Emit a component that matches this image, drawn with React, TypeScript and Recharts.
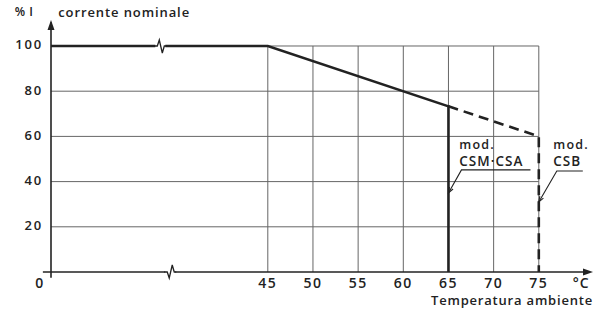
import { LineChart, Line, XAxis, YAxis, ReferenceLine, ReferenceDot } from 'recharts';

// temperature axis is broken between 0 and 45 °C
const BREAK_AT = 45;
const BREAK_UNITS = 24;
const toAxis = (t: number) => (t >= BREAK_AT ? t - BREAK_AT + BREAK_UNITS : (t * BREAK_UNITS) / BREAK_AT);
const fromAxis = (v: number) => (v >= BREAK_UNITS ? v - BREAK_UNITS + BREAK_AT : Math.round((v * BREAK_AT) / BREAK_UNITS));

const xTicks = [0, 45, 50, 55, 60, 65, 70, 75];
const yTicks = [20, 40, 60, 80, 100];

// CSM / CSA: solid, stops at 65 °C
const csaTemps = [0, 45, 65, 65];
const csaCurrent = [100, 100, 73.3, 0];
// CSB: dashed continuation up to 75 °C
const csbTemps = [65, 75, 75];
const csbCurrent = [73.3, 60, 0];

const X_MAX = 60;
const Y_MAX = 111.5;

const INK = '#222';
const GRID = '#666';
const FONT = '"Open Sans", "DejaVu Sans", sans-serif';
const W = 600;

const toPoints = (ts: number[], vs: number[]) => ts.map((t, i) => ({ x: toAxis(t), y: vs[i] }));
const csaData = toPoints(csaTemps, csaCurrent);
const csbData = toPoints(csbTemps, csbCurrent);

const XTick = (props: any) => {
  const { x, y, payload } = props;
  const t = fromAxis(payload.value);
  return (
    <text x={t === 0 ? x - 11 : x} y={y + 4} textAnchor="middle" dominantBaseline="middle"
      fontFamily={FONT} fontWeight={W} fontSize={14} fill={INK} letterSpacing={1.5}>
      {t}
    </text>
  );
};

const YTick = (props: any) => {
  const { x, y, payload } = props;
  return (
    <text x={x} y={y} textAnchor="end" dominantBaseline="middle"
      fontFamily={FONT} fontWeight={W} fontSize={13} fill={INK} letterSpacing={1.8}>
      {payload.value}
    </text>
  );
};

const txt = (s: string, anchor: 'start' | 'end' | 'middle', size: number, ls = 1) => (p: any) => (
  <text x={p.cx} y={p.cy} textAnchor={anchor} dominantBaseline="middle"
    fontFamily={FONT} fontWeight={W} fontSize={size} fill={INK} letterSpacing={ls}>
    {s}
  </text>
);

// two-line model label: "mod." above the model names
const modLabel = (name: string) => (p: any) => (
  <text x={p.cx} y={p.cy} fontFamily={FONT} fontWeight={W} fill={INK}>
    <tspan x={p.cx} fontSize={12.5} letterSpacing={1.2}>mod.</tspan>
    <tspan x={p.cx} dy={17} fontSize={13.5} letterSpacing={1}>{name}</tspan>
  </text>
);

const arrowUp = (p: any) => <path d={`M${p.cx},${p.cy} L${p.cx - 3.5},${p.cy + 10} L${p.cx + 3.5},${p.cy + 10} Z`} fill={INK} />;
const arrowRight = (p: any) => <path d={`M${p.cx},${p.cy} L${p.cx - 10},${p.cy - 3.5} L${p.cx - 10},${p.cy + 3.5} Z`} fill={INK} />;

const breakMark = (up: boolean) => (p: any) => {
  const s = up ? -1 : 1;
  return (
    <g>
      <rect x={p.cx - 5} y={p.cy - 2} width={10} height={4} fill="#fff" />
      <path d={`M${p.cx - 6},${p.cy} L${p.cx - 3},${p.cy} L${p.cx - 1},${p.cy + s * 6} L${p.cx + 2},${p.cy - s * 7} L${p.cx + 4},${p.cy} L${p.cx + 6},${p.cy}`}
        stroke={INK} strokeWidth={1.3} fill="none" />
    </g>
  );
};

// leader from label underline to the curve it names
const leader = (x1: number, y1: number, x2: number, y2: number, u: number) => (p: any) => {
  const ax = p.cx, ay = p.cy;
  const bx = ax + (x1 - x2), by = ay + (y1 - y2);
  const ang = Math.atan2(ay - by, ax - bx);
  const hx = (a: number) => ax - 6 * Math.cos(ang + a);
  const hy = (a: number) => ay - 6 * Math.sin(ang + a);
  return (
    <g stroke={INK} strokeWidth={1.1} fill="none">
      <path d={`M${bx + u},${by} L${bx},${by} L${ax},${ay}`} />
      <path d={`M${hx(0.35)},${hy(0.35)} L${ax},${ay} L${hx(-0.35)},${hy(-0.35)}`} />
    </g>
  );
};

export default function App() {
  const gridTemps = xTicks.filter((t) => t >= 45);
  return (
    <div style={{ position: 'absolute', left: 0, top: 0, width: 611, height: 310, background: '#fff' }}>
      <LineChart width={611} height={310} margin={{ top: 20, right: 18, left: 0, bottom: 0 }}>
        <XAxis type="number" dataKey="x" domain={[0, X_MAX]} ticks={xTicks.map(toAxis)} tick={<XTick />}
          axisLine={false} tickLine={false} height={38} allowDataOverflow interval={0} />
        <YAxis type="number" dataKey="y" domain={[0, Y_MAX]} ticks={yTicks} tick={<YTick />}
          axisLine={false} tickLine={false} width={51} allowDataOverflow interval={0} />

        {yTicks.map((v) => (
          <ReferenceLine key={'h' + v} segment={[{ x: 0, y: v }, { x: toAxis(75), y: v }]} stroke={GRID} strokeWidth={1} />
        ))}
        {gridTemps.map((t) => (
          <ReferenceLine key={'v' + t} segment={[{ x: toAxis(t), y: 0 }, { x: toAxis(t), y: 100 }]} stroke={GRID} strokeWidth={1} />
        ))}

        <ReferenceLine segment={[{ x: -0.9, y: 0 }, { x: X_MAX - 0.5, y: 0 }]} stroke={INK} strokeWidth={1.6} ifOverflow="visible" />
        <ReferenceLine segment={[{ x: 0, y: -2.5 }, { x: 0, y: Y_MAX - 1 }]} stroke={INK} strokeWidth={1.6} ifOverflow="visible" />
        <ReferenceDot x={0} y={Y_MAX} r={0} shape={arrowUp} ifOverflow="visible" />
        <ReferenceDot x={X_MAX} y={0} r={0} shape={arrowRight} ifOverflow="visible" />

        <Line data={csaData} dataKey="y" type="linear" stroke={INK} strokeWidth={2.6} dot={false} isAnimationActive={false} />
        <Line data={csbData} dataKey="y" type="linear" stroke={INK} strokeWidth={2.6} strokeDasharray="10 6" dot={false} isAnimationActive={false} />

        <ReferenceDot x={12.1} y={100} r={0} shape={breakMark(true)} ifOverflow="visible" />
        <ReferenceDot x={13.2} y={0} r={0} shape={breakMark(false)} ifOverflow="visible" />

        <ReferenceDot x={toAxis(65)} y={35} r={0} shape={leader(463, 169, 450, 192, 69)} ifOverflow="visible" />
        <ReferenceDot x={toAxis(75)} y={31} r={0} shape={leader(558, 169, 540, 200, 26)} ifOverflow="visible" />

        <ReferenceDot x={toAxis(66.2)} y={54.6} r={0} shape={modLabel('CSM·CSA')} ifOverflow="visible" />
        <ReferenceDot x={toAxis(76.6)} y={54.6} r={0} shape={modLabel('CSB')} ifOverflow="visible" />

        <ReferenceDot x={-4} y={114.5} r={0} shape={txt('% I', 'start', 12, 0.5)} ifOverflow="visible" />
        <ReferenceDot x={0.8} y={114.5} r={0} shape={txt('corrente nominale', 'start', 13, 0.9)} ifOverflow="visible" />
        <ReferenceDot x={X_MAX - 1.3} y={-5.3} r={0} shape={txt('°C', 'middle', 14)} ifOverflow="visible" />
        <ReferenceDot x={X_MAX} y={-13} r={0} shape={txt('Temperatura ambiente', 'end', 13, 0.8)} ifOverflow="visible" />
      </LineChart>
    </div>
  );
}
